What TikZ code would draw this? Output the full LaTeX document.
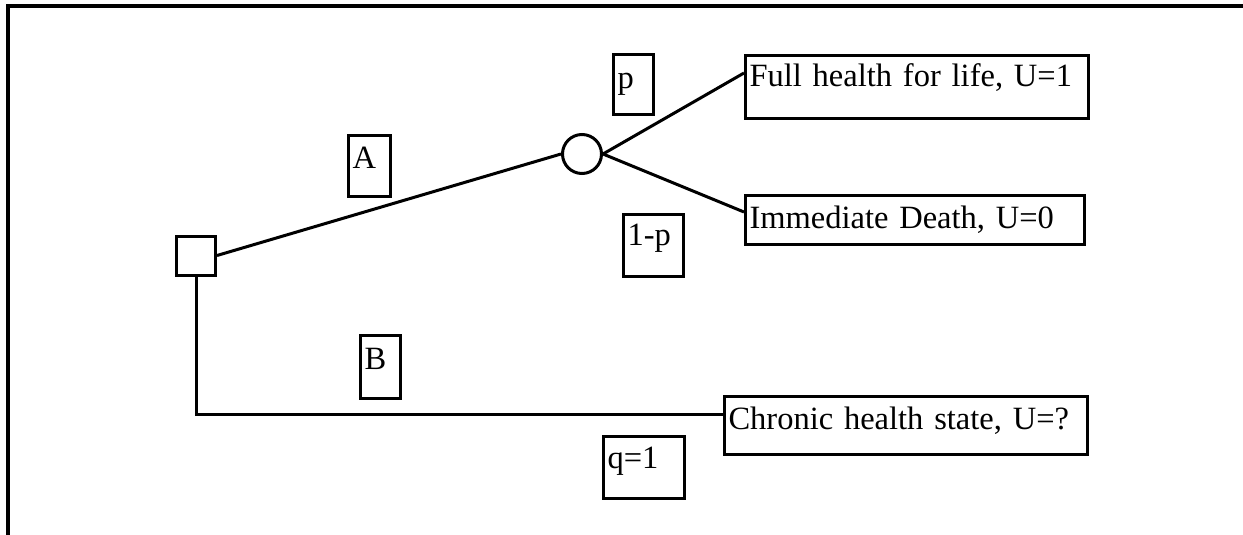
\documentclass[tikz,border=0pt]{standalone}
\usepackage{fontspec}
\setmainfont{Liberation Serif}

\tikzset{
  box/.style={draw, line width=3pt, anchor=north west, inner xsep=4pt,
    inner ysep=0pt, align=left, font=\fontsize{32.5}{38}\selectfont},
}

\begin{document}
\begin{tikzpicture}[x=1pt, y=-1pt, line width=3pt]
    % Fix the page size
    \useasboundingbox (0,0) rectangle (1243,535);

    % Draw the frame (top and left edges)
    \draw[line width=4pt] (8,535) -- (8,6) -- (1243,6);

    % Decision node and chance node
    \node[draw, minimum size=39pt, inner sep=0pt] (dec) at (196,255.5) {};
    \node[draw, circle, minimum size=39pt, inner sep=0pt] (chance) at (582,154) {};

    % Outcome boxes
    \node[box, text width=335pt, text height=31pt, text depth=32pt] (full) at (744,54) {Full health for life, U=1};
    \node[box, text width=331pt, text height=33pt, text depth=16pt] (death) at (744,194) {Immediate Death, U=0};
    \node[box, text width=355pt, text height=33pt, text depth=25pt] (chronic) at (723,395) {Chronic health state, U=?};

    % Branch and probability labels
    \node[box, text width=34pt, text height=33pt, text depth=28pt] (labA) at (347,134) {A};
    \node[box, text width=32pt, text height=34pt, text depth=29pt] (labB) at (359,334) {B};
    \node[box, text width=32pt, text height=34pt, text depth=26pt] (labp) at (612,53) {p};
    \node[box, text width=52pt, text height=31pt, text depth=31pt] (lab1p) at (622,213) {1-p};
    \node[box, text width=73pt, text height=32pt, text depth=30pt] (labq) at (602,435) {q=1};

    % Draw the branches
    \draw (dec.east) -- (chance.west);
    \draw (chance.east) -- ([yshift=-19pt]full.north west);
    \draw (chance.east) -- ([yshift=-18pt]death.north west);
    \draw (dec.south) |- ([yshift=-19pt]chronic.north west);

\end{tikzpicture}
\end{document}
